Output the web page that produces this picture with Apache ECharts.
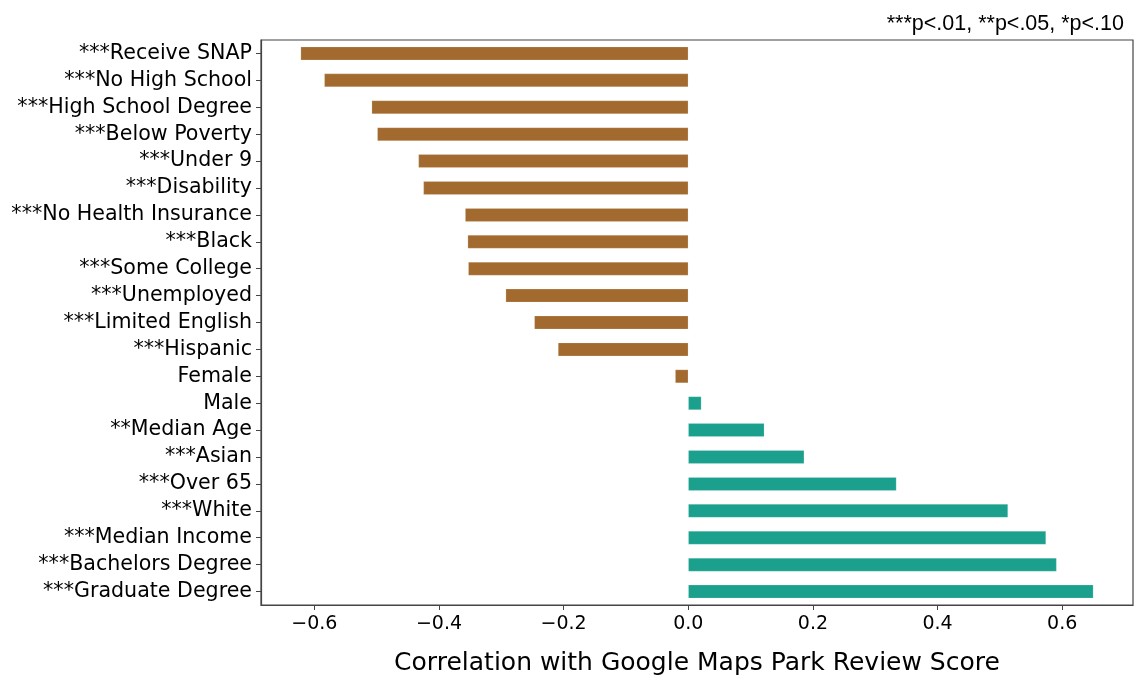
<!DOCTYPE html>
<html>
<head>
<meta charset="utf-8">
<script src="https://cdn.jsdelivr.net/npm/echarts@6/dist/echarts.min.js"></script>
<style>
  html, body { margin: 0; padding: 0; background: #fff; }
  #chart { width: 1147px; height: 681px; }
</style>
</head>
<body>
<div id="chart"></div>
<script>
// Census variables, top to bottom
const categories = [
  '***Receive SNAP', '***No High School', '***High School Degree', '***Below Poverty',
  '***Under 9', '***Disability', '***No Health Insurance', '***Black',
  '***Some College', '***Unemployed', '***Limited English', '***Hispanic',
  'Female', 'Male', '**Median Age', '***Asian', '***Over 65', '***White',
  '***Median Income', '***Bachelors Degree', '***Graduate Degree'
];

// Correlation of each variable with the park review score
const correlations = [
  -0.622, -0.584, -0.508, -0.499,
  -0.433, -0.425, -0.358, -0.354,
  -0.353, -0.293, -0.247, -0.209,
  -0.021, 0.021, 0.122, 0.186, 0.334, 0.513,
  0.574, 0.591, 0.650
];

// x-axis tick positions
const xTicks = [-0.6, -0.4, -0.2, 0.0, 0.2, 0.4, 0.6];

const NEG_COLOR = '#a36a2f';
const POS_COLOR = '#1aa08d';

// 5% padding on each side of the data range
const lo = Math.min(...correlations), hi = Math.max(...correlations);
const pad = (hi - lo) * 0.05;

const chart = echarts.init(document.getElementById('chart'));
chart.setOption({
  animation: false,
  backgroundColor: '#fff',
  title: {
    text: '***p<.01, **p<.05, *p<.10',
    right: 18,
    top: 8,
    textStyle: { fontFamily: 'Liberation Sans, Arial', fontSize: 21.5, fontWeight: 'normal', color: '#000' }
  },
  grid: {
    left: 261, right: 14, top: 40, bottom: 69,
    show: true, borderColor: '#444', borderWidth: 1.2, backgroundColor: 'transparent'
  },
  xAxis: {
    type: 'value',
    min: lo - pad,
    max: hi + pad,
    name: 'Correlation with Google Maps Park Review Score',
    nameLocation: 'middle',
    nameGap: 46,
    nameTextStyle: { fontFamily: 'DejaVu Sans', fontSize: 25, color: '#000' },
    axisLine: { show: true, onZero: false, lineStyle: { color: '#444', width: 1.2 } },
    axisTick: { show: true, length: 5, lineStyle: { color: '#444' }, customValues: xTicks },
    axisLabel: {
      customValues: xTicks,
      margin: 10,
      fontFamily: 'DejaVu Sans', fontSize: 19, color: '#000',
      formatter: v => (v < 0 ? '\u2212' : '') + Math.abs(v).toFixed(1)
    },
    splitLine: { show: false }
  },
  yAxis: {
    type: 'category',
    data: categories,
    inverse: true,
    axisLine: { show: true, onZero: false, lineStyle: { color: '#444', width: 1.2 } },
    axisTick: { show: true, alignWithLabel: true, interval: 0, length: 5, lineStyle: { color: '#444' } },
    axisLabel: { interval: 0, margin: 9, fontFamily: 'DejaVu Sans', fontSize: 20.6, color: '#000' },
    splitLine: { show: false }
  },
  series: [{
    type: 'bar',
    data: correlations,
    barWidth: 13.5,
    itemStyle: {
      color: p => (p.value < 0 ? NEG_COLOR : POS_COLOR),
      borderColor: 'rgba(255,255,255,0.35)',
      borderWidth: 0.5
    }
  }]
});
</script>
</body>
</html>
